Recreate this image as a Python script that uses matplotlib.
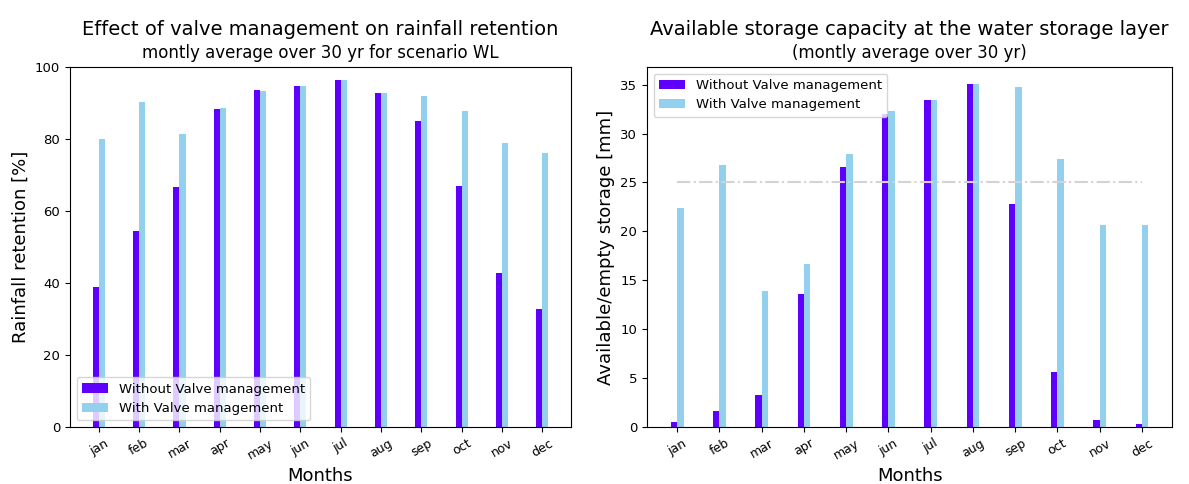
import matplotlib
matplotlib.use('Agg')
import matplotlib.pyplot as plt
import numpy as np

months = ['jan', 'feb', 'mar', 'apr', 'may', 'jun', 'jul', 'aug', 'sep', 'oct', 'nov', 'dec']

# Rainfall retention [%]
retention_without = [38.9, 54.4, 66.6, 88.3, 93.5, 94.6, 96.4, 92.8, 85.0, 66.9, 42.9, 32.9]
retention_with = [80.1, 90.2, 81.4, 88.6, 93.4, 94.6, 96.4, 92.8, 92.0, 87.9, 78.8, 76.1]

# Available/empty storage [mm]
storage_without = [0.48, 1.66, 3.3, 13.56, 26.54, 32.0, 33.4, 35.05, 22.77, 5.6, 0.75, 0.34]
storage_with = [22.36, 26.8, 13.86, 16.68, 27.86, 32.35, 33.4, 35.05, 34.8, 27.35, 20.6, 20.6]
storage_reference = 25

purple = '#5f00ff'
light_blue = '#92d0ee'
w = 0.15

fig = plt.figure(figsize=(11.89, 4.84), dpi=100)
ax1 = fig.add_axes([0.0589, 0.1178, 0.4214, 0.7438])
ax2 = fig.add_axes([0.5442, 0.1178, 0.4416, 0.7438])

x = np.arange(len(months))

def draw_bars(ax, without, with_):
    ax.bar(x - w, without, width=w, align='edge', color=purple, label='Without Valve management')
    ax.bar(x, with_, width=w, align='edge', color=light_blue, label='With Valve management')
    ax.set_xticks(x)
    ax.set_xticklabels(months, rotation=30, fontsize=9)
    ax.tick_params(axis='y', labelsize=9.5)
    ax.set_xlabel('Months', fontsize=13)

# left panel
draw_bars(ax1, retention_without, retention_with)
ax1.set_ylim(0, 100)
ax1.set_ylabel('Rainfall retention [%]', fontsize=13)
ax1.legend(loc='lower left', fontsize=9.5)
ax1.text(0.5, 1.105, 'Effect of valve management on rainfall retention', transform=ax1.transAxes,
         ha='center', va='center', fontsize=14)
ax1.text(0.5, 1.04, 'montly average over 30 yr for scenario WL', transform=ax1.transAxes,
         ha='center', va='center', fontsize=12)

# right panel
draw_bars(ax2, storage_without, storage_with)
ax2.hlines(storage_reference, 0, len(months) - 1, colors='lightgray', linestyles='-.')
ax2.set_ylabel('Available/empty storage [mm]', fontsize=13)
ax2.legend(loc='upper left', fontsize=9.5)
ax2.text(0.5, 1.105, 'Available storage capacity at the water storage layer', transform=ax2.transAxes,
         ha='center', va='center', fontsize=14)
ax2.text(0.5, 1.04, '(montly average over 30 yr)', transform=ax2.transAxes,
         ha='center', va='center', fontsize=12)

fig.savefig('out.png', dpi=100)
